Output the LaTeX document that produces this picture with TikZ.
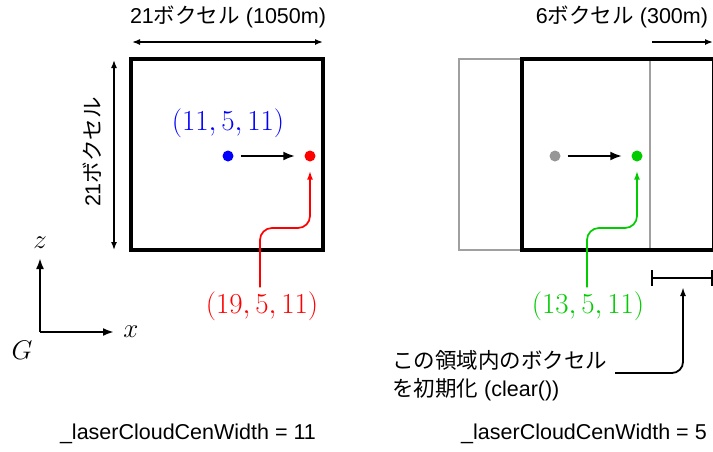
\RequirePackage{fix-cm}
\documentclass[tikz,border=0pt]{standalone}
\usepackage{fontspec}
\setmainfont{Liberation Sans}
\newfontfamily\jpfont{Noto Sans CJK JP}
\newcommand{\jp}[1]{{\jpfont #1}}
\usetikzlibrary{arrows.meta}
\definecolor{myred}{RGB}{255,0,0}
\definecolor{myblue}{RGB}{0,0,255}
\definecolor{mygreen}{RGB}{0,204,0}
\definecolor{dotgray}{RGB}{150,150,150}
\definecolor{boxgray}{RGB}{160,160,160}
\begin{document}
\begin{tikzpicture}[x=1pt,y=-1pt,
  lbl/.style={font=\fontsize{21.5}{28}\selectfont, inner sep=0pt},
  mlbl/.style={font=\fontsize{29}{33}\selectfont, inner sep=0pt},
  alb/.style={font=\fontsize{27}{31}\selectfont, inner sep=0pt},
  dot/.style={circle, inner sep=0pt, minimum size=11pt},
  voxbox/.style={line width=3.2pt},
  oldbox/.style={line width=2.6pt, draw=boxgray},
  movearr/.style={-{Latex[length=12pt,width=9pt]}, line width=2.4pt, shorten <=7pt, shorten >=9pt},
  dimarr/.style={{Latex[length=8pt,width=6pt]}-{Latex[length=8pt,width=6pt]}, line width=1.5pt},
  dimarrr/.style={-{Latex[length=8pt,width=6pt]}, line width=1.5pt},
  curvearr/.style={-{Latex[length=9pt,width=6pt]}, line width=1.7pt, rounded corners=12pt, shorten <=4pt, shorten >=9pt},
  axarr/.style={-{Latex[length=11pt,width=8pt]}, line width=2.4pt},
  callarr/.style={-{Latex[length=9pt,width=6pt]}, line width=1.8pt, rounded corners=11pt},
]
\useasboundingbox (0,0) rectangle (713,451);
\clip (0,0) rectangle (713,451);

% ---------- left figure ----------
\node[lbl] (wtitle) at (228,17) {21\jp{ボクセル} (1050m)};
\coordinate (wl) at (132,42);
\coordinate (wr) at (323,42);
\draw[dimarr] (wl) -- (wr);
\coordinate (ht) at (114,60);
\coordinate (hb) at (114,250);
\draw[dimarr] (ht) -- (hb);
\node[lbl, rotate=90] (htitle) at (92,152) {21\jp{ボクセル}};

\draw[voxbox] (131,59) rectangle (323,250);

\node[dot, fill=myblue] (bdot) at (228,156) {};
\node[dot, fill=myred] (rdot) at (310,156) {};
\draw[movearr] (bdot) -- (rdot);
\node[mlbl, text=myblue] (blbl) at (228,123) {$(11,5,11)$};
\node[mlbl, text=myred] (rlbl) at (262,306) {$(19,5,11)$};
\coordinate (rbend) at (310,228);
\draw[curvearr, draw=myred] (rlbl.north -| 260,0) |- (rbend) -- (rdot.south);

% axes
\coordinate (O) at (40,332);
\coordinate (zt) at (40,258);
\coordinate (xt) at (114,332);
\draw[axarr] (O) -- (zt);
\draw[axarr] (O) -- (xt);
\node[alb] (zlbl) at (40,243) {$z$};
\node[alb] (xlbl) at (131,332) {$x$};
\node[alb] (glbl) at (22,350) {$G$};

\node[lbl] (wleft) at (188,434) {\_laserCloudCenWidth = 11};

% ---------- right figure ----------
\node[lbl] (stitle) at (622,17) {6\jp{ボクセル} (300m)};
\coordinate (sl) at (652,42);
\coordinate (sr) at (713,42);
\draw[dimarrr] (sl) -- (sr);

\draw[oldbox] (459,59) rectangle (650,250);
\draw[voxbox] (522,59) rectangle (714,250);

\node[dot, fill=dotgray] (gdot) at (555,156) {};
\node[dot, fill=mygreen] (gndot) at (637,156) {};
\draw[movearr] (gdot) -- (gndot);
\node[mlbl, text=mygreen] (glbl2) at (588,306) {$(13,5,11)$};
\coordinate (gbend) at (637,228);
\draw[curvearr, draw=mygreen] (glbl2.north -| 587,0) |- (gbend) -- (gndot.south);

\coordinate (barl) at (651,278);
\coordinate (barr) at (713,278);
\draw[{Bar[width=16pt]}-{Bar[width=16pt]}, line width=2.2pt] (barl) -- (barr);

\node[lbl, anchor=west, align=left] (ctext) at (392,376) {\jp{この領域内のボクセル}\\\jp{を初期化} (clear())};
\coordinate (cstart) at (615,373);
\coordinate (ctip) at (683,287);
\draw[callarr] (cstart) -| (ctip);

\node[lbl] (wright) at (584,434) {\_laserCloudCenWidth = 5};
\end{tikzpicture}
\end{document}
